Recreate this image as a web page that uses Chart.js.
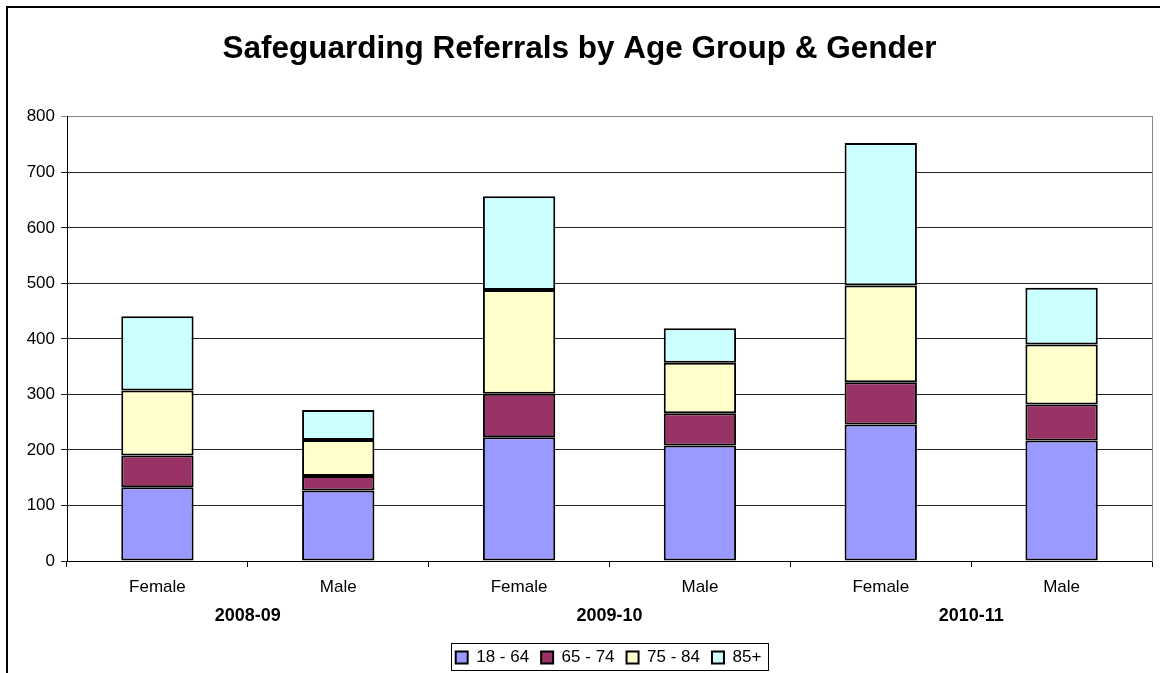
<!DOCTYPE html>
<html>
<head>
<meta charset="utf-8">
<script src="https://cdn.jsdelivr.net/npm/chart.js@4/dist/chart.umd.min.js"></script>
<style>
  body { margin: 0; background: #fff; }
  #wrap { position: relative; width: 1160px; height: 673px; overflow: hidden; }
  #frame { position: absolute; left: 6px; top: 6px; width: 1200px; height: 700px; border: 2px solid #000; }
  canvas { position: absolute; left: 0; top: 0; }
</style>
</head>
<body>
<div id="wrap">
  <div id="frame"></div>
  <canvas id="myChart" width="1160" height="673"></canvas>
</div>
<script>
const genders = ['Female', 'Male', 'Female', 'Male', 'Female', 'Male'];
const years = ['2008-09', '2009-10', '2010-11'];
const ageGroups = ['18 - 64', '65 - 74', '75 - 84', '85+'];

const age18to64 = [133, 127, 223, 208, 246, 217];
const age65to74 = [57, 26, 78, 58, 76, 65];
const age75to84 = [117, 65, 187, 91, 174, 108];
const age85plus = [134, 54, 169, 62, 257, 102];

const colours = ['#9999FF', '#993366', '#FFFFCC', '#CCFFFF'];
const font = 'Arial, "Liberation Sans", sans-serif';

// the Excel legend sits a bit right of centre and has a frame round it
const shiftX = 29, shiftY = -2;
const legendFrame = {
  id: 'legendFrame',
  beforeDraw(chart) {
    const lg = chart.legend;
    if (!lg._shifted) {
      lg.left += shiftX;
      lg.right += shiftX;
      lg.top += shiftY;
      lg.bottom += shiftY;
      lg.legendHitBoxes.forEach(b => { b.left += shiftX; b.top += shiftY; });
      lg._shifted = true;
    }
  },
  afterDraw(chart) {
    const boxes = chart.legend.legendHitBoxes;
    if (!boxes || !boxes.length) return;
    const left = Math.min(...boxes.map(b => b.left)) - 5;
    const right = Math.max(...boxes.map(b => b.left + b.width)) + 6;
    const top = Math.min(...boxes.map(b => b.top)) - 6;
    const bottom = Math.max(...boxes.map(b => b.top + b.height)) + 4;
    const ctx = chart.ctx;
    ctx.save();
    ctx.strokeStyle = '#000';
    ctx.lineWidth = 1;
    ctx.strokeRect(Math.round(left) + 0.5, Math.round(top) + 0.5, Math.round(right - left), Math.round(bottom - top));
    ctx.restore();
  }
};

const seriesData = [age18to64, age65to74, age75to84, age85plus];

new Chart(document.getElementById('myChart'), {
  type: 'bar',
  data: {
    labels: genders,
    datasets: ageGroups.map((name, i) => ({
      label: name,
      data: seriesData[i],
      backgroundColor: colours[i],
      borderColor: '#000',
      borderWidth: 2,
      borderSkipped: false,
      categoryPercentage: 1,
      barPercentage: 0.4,
      xAxisID: 'x',
      yAxisID: 'y'
    }))
  },
  options: {
    responsive: false,
    animation: false,
    layout: { padding: { left: 7, right: 8, top: 0, bottom: -5 } },
    scales: {
      x: {
        stacked: true,
        grid: { drawOnChartArea: false, offset: true, tickLength: 6, color: '#000' },
        border: { color: '#000', width: 1 },
        ticks: { color: '#000', font: { family: font, size: 17 }, padding: 10, maxRotation: 0 },
        afterFit: s => { s.height = 42; }
      },
      x2: {
        type: 'category',
        labels: years,
        position: 'bottom',
        grid: { display: false, drawTicks: false },
        border: { display: false },
        ticks: { color: '#000', font: { family: font, size: 18, weight: 'bold' }, padding: 2 },
        afterFit: s => { s.height = 36; }
      },
      y: {
        stacked: true,
        min: 0,
        max: 800,
        ticks: { stepSize: 100, color: '#000', font: { family: font, size: 17 }, padding: 6 },
        grid: {
          color: ctx => ctx.tick && ctx.tick.value === 800 ? '#888' : '#222',
          tickLength: 6
        },
        border: { color: '#000', width: 1 },
        afterFit: s => { s.width = 60; }
      },
      y2: {
        position: 'right',
        min: 0,
        max: 800,
        grid: { drawOnChartArea: false, drawTicks: false },
        ticks: { display: false },
        border: { color: '#888', width: 1 },
        afterFit: s => { s.width = 0; }
      }
    },
    plugins: {
      title: {
        display: true,
        text: 'Safeguarding Referrals by Age Group & Gender',
        color: '#000',
        font: { family: font, size: 31.5, weight: 'bold' },
        padding: { top: 30, bottom: 49 }
      },
      legend: {
        position: 'bottom',
        labels: {
          color: '#000',
          font: { family: font, size: 17 },
          boxWidth: 12,
          boxHeight: 12,
          padding: 12
        }
      },
      tooltip: { enabled: false }
    }
  },
  plugins: [legendFrame]
});
</script>
</body>
</html>
